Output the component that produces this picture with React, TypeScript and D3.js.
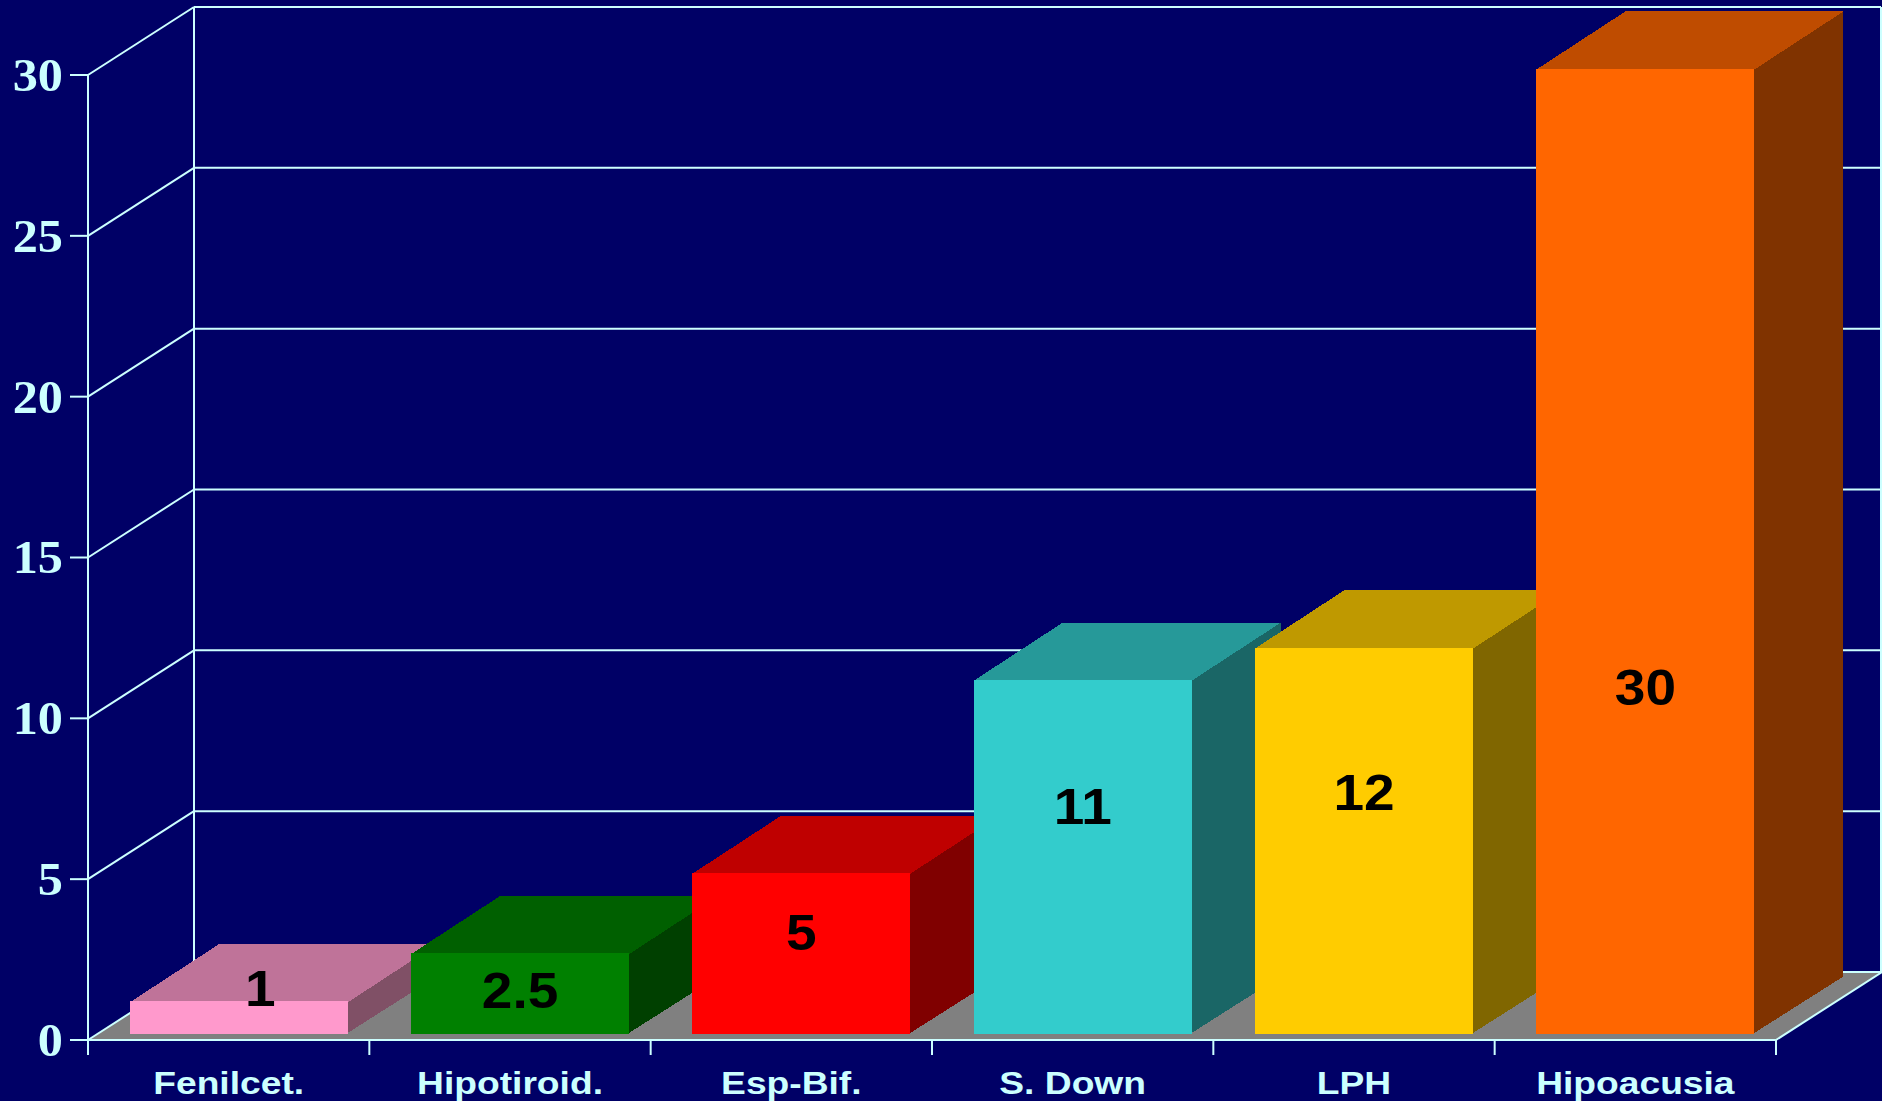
import * as d3 from 'd3';

const categories = ['Fenilcet.', 'Hipotiroid.', 'Esp-Bif.', 'S. Down', 'LPH', 'Hipoacusia'];
const values = [1, 2.5, 5, 11, 12, 30];
const valueLabels = ['1', '2.5', '5', '11', '12', '30'];
// height (in axis units) at which each value label sits
const labelLevels = [1.43, 1.36, 3.15, 7.07, 7.51, 10.78];
const yTicks = [0, 5, 10, 15, 20, 25, 30];

const frontColors = ['#ff99cc', '#008000', '#ff0000', '#33cccc', '#ffcc00', '#ff6600'];
const topColors = ['#bf7399', '#006000', '#bf0000', '#269999', '#bf9900', '#bf4c00'];
const sideColors = ['#805066', '#004000', '#800000', '#1a6666', '#806600', '#803300'];

const W = 1882;
const H = 1101;
const BG = '#000066';
const LINE = '#ccffff';

// depth of the 3d box
const DX = 106;
const DY = 68;

export default function App() {
  const x = d3.scaleBand<string>().domain(categories).range([88, 1776]).padding(0);
  const y = d3.scaleLinear().domain([0, 30]).range([1040, 75]);

  const unit = y(0) - y(1);
  const barW = x.bandwidth() * 0.775;
  const f0 = 0.095; // bar front plane (fraction of depth)
  const f1 = f0 + 89 / DX; // bar back plane

  const xEnd = x.range()[1];
  const xStart = x.range()[0];

  const tickEdges = [...categories.map(c => x(c)!), xEnd];

  const floor = [
    [xStart, y(0)],
    [xEnd, y(0)],
    [xEnd + DX, y(0) - DY],
    [xStart + DX, y(0) - DY],
  ];

  const pts = (p: number[][]) => p.map(d => d.join(',')).join(' ');

  return (
    <>
      <style>{`body{margin:0;background:${BG}}`}</style>
      <svg width={W} height={H} style={{ display: 'block', background: BG }}>
        <rect width={W} height={H} fill={BG} />

        {/* floor */}
        <polygon points={pts(floor)} fill="#808080" />

        {/* walls and gridlines */}
        <g stroke={LINE} strokeWidth={2} fill="none">
          {yTicks.map(t => (
            <g key={t}>
              <line x1={xStart} y1={y(t)} x2={xStart + DX} y2={y(t) - DY} />
              <line x1={xStart + DX} y1={y(t) - DY} x2={xEnd + DX - 1} y2={y(t) - DY} />
            </g>
          ))}
          <line x1={xStart + DX} y1={y(30) - DY} x2={xStart + DX} y2={y(0) - DY} />
          <line x1={xEnd + DX - 1} y1={y(30) - DY} x2={xEnd + DX - 1} y2={y(0) - DY} />
        </g>

        {/* bars */}
        <g shapeRendering="crispEdges">
          {categories.map((c, i) => {
            const xl = x(c)! + (x.bandwidth() - barW) / 2 + f0 * DX;
            const xr = xl + barW;
            const yb = y(0) - f0 * DY;
            const yt = y(values[i]) - f0 * DY;
            const bx = (f1 - f0) * DX;
            const by = (f1 - f0) * DY;
            const top = [[xl, yt + 1], [xr, yt + 1], [xr + bx, yt - by], [xl + bx, yt - by]];
            const side = [[xr - 1, yt], [xr + bx, yt - by], [xr + bx, yb - by], [xr - 1, yb]];
            return (
              <g key={c}>
                <polygon points={pts(side)} fill={sideColors[i]} />
                <polygon points={pts(top)} fill={topColors[i]} />
                <rect x={xl} y={yt} width={barW} height={yb - yt} fill={frontColors[i]} />
              </g>
            );
          })}
        </g>

        {/* value labels */}
        {categories.map((c, i) => {
          const cx = x(c)! + x.bandwidth() / 2 + f0 * DX;
          const over = Math.max(0, labelLevels[i] - values[i]) * unit;
          const lx = cx + over * DX / DY;
          const ly = y(labelLevels[i]) - f0 * DY;
          return (
            <text
              key={c}
              transform={`translate(${lx},${ly}) scale(1.1,1)`}
              textAnchor="middle"
              dy="0.36em"
              fontFamily="'Liberation Sans', Arial, sans-serif"
              fontWeight="bold"
              fontSize={50}
              fill="#000"
            >
              {valueLabels[i]}
            </text>
          );
        })}

        {/* front axes */}
        <g stroke={LINE} strokeWidth={2} fill="none">
          <line x1={xStart} y1={y(30)} x2={xStart} y2={y(0) + 15} />
          <line x1={xStart} y1={y(0)} x2={xEnd} y2={y(0)} />
          <line x1={xEnd} y1={y(0)} x2={xEnd + DX} y2={y(0) - DY} />
          {yTicks.map(t => (
            <line key={t} x1={xStart - 18} y1={y(t)} x2={xStart} y2={y(t)} />
          ))}
          {tickEdges.map((e, i) => (
            <line key={i} x1={e} y1={y(0)} x2={e} y2={y(0) + 15} />
          ))}
        </g>

        {/* y tick labels */}
        {yTicks.map(t => (
          <text
            key={t}
            transform={`translate(63,${y(t)}) scale(1.07,1)`}
            textAnchor="end"
            dy="0.34em"
            fontFamily="'Liberation Serif', 'Times New Roman', serif"
            fontWeight="bold"
            fontSize={47}
            fill={LINE}
          >
            {t}
          </text>
        ))}

        {/* category labels */}
        {categories.map(c => (
          <text
            key={c}
            transform={`translate(${x(c)! + x.bandwidth() / 2},1094) scale(1.2,1)`}
            textAnchor="middle"
            fontFamily="'Liberation Sans', Arial, sans-serif"
            fontWeight="bold"
            fontSize={31}
            fill={LINE}
          >
            {c}
          </text>
        ))}
      </svg>
    </>
  );
}
